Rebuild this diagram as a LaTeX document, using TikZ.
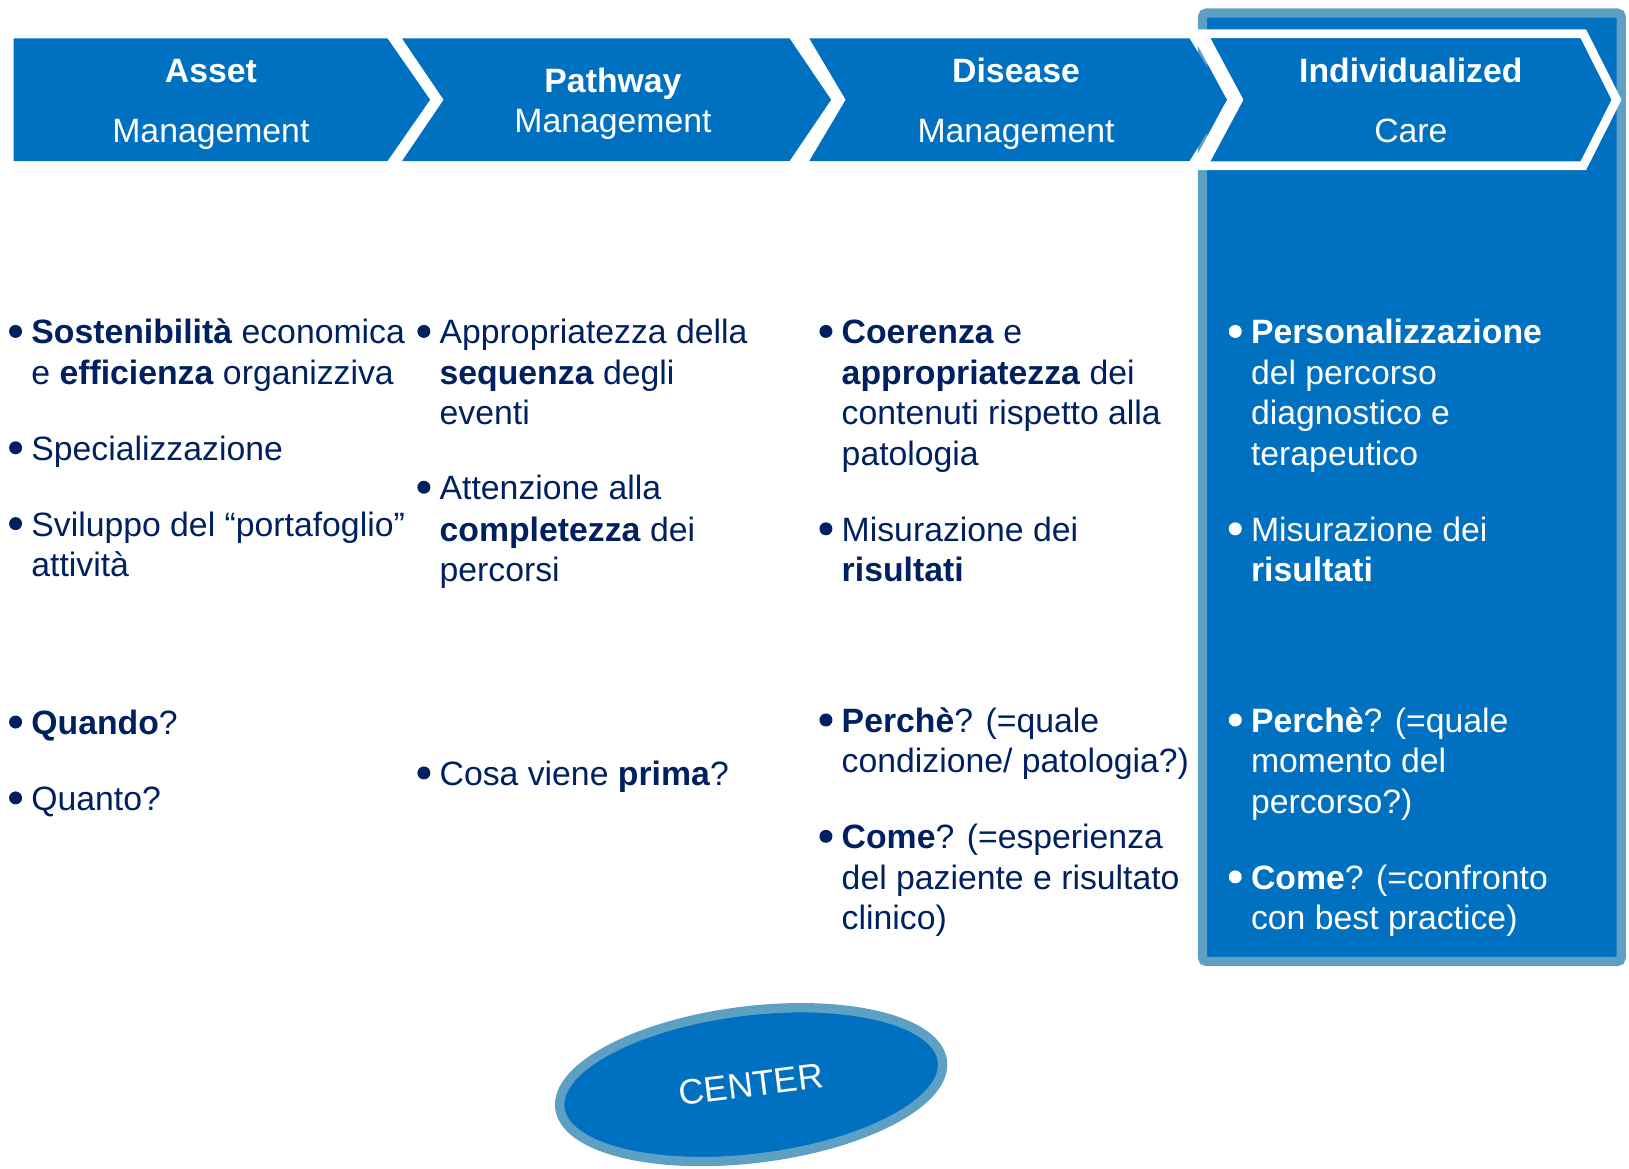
\documentclass[tikz,border=0pt]{standalone}
\usepackage{fontspec}
\setmainfont{Liberation Sans}
\usetikzlibrary{shapes.geometric}
\definecolor{mblue}{RGB}{0,112,192}
\definecolor{lblue}{RGB}{93,160,195}
\definecolor{navy}{RGB}{0,32,96}
\newcommand\bodyfs{\fontsize{32.5}{39}\selectfont}
\begin{document}
\begin{tikzpicture}[x=1pt,y=-1pt,
  chev/.style={fill=mblue},
  head/.style={anchor=base, text=white, font=\bodyfs, inner sep=0pt},
  txt/.style={anchor=base west, text=navy, font=\bodyfs, inner sep=0pt},
  wtxt/.style={txt, text=white},
  bul/.style={circle, fill=navy, minimum size=12.5pt, inner sep=0pt},
  wbul/.style={bul, fill=white}]
\useasboundingbox (0,0) rectangle (1568,1125);

% highlight box
\draw[lblue, fill=mblue, line width=9pt, rounded corners=4pt] (1157.5,12.5) rectangle (1560.5,925.5);
% white gap at junction
\fill[white] (1145,29) -- (1165,29) -- (1199,96) -- (1165,163) -- (1145,163) -- (1181,96) -- cycle;
% chevrons
\fill[chev] (13,37) -- (373,37) -- (414,96) -- (373,155) -- (13,155) -- cycle;
\fill[chev] (387,37) -- (760,37) -- (800,96) -- (760,155) -- (387,155) -- (427,96) -- cycle;
\fill[chev] (779,37) -- (1145,37) -- (1181,96) -- (1145,155) -- (779,155) -- (814,96) -- cycle;
\draw[fill=mblue, draw=white, line width=8.5pt, line join=miter]
  (1158,32.5) -- (1524,32.5) -- (1556,96) -- (1524,159.5) -- (1158,159.5) -- (1192,96) -- cycle;

% headings
\node[head] (h1a) at (203,79) {\textbf{Asset}};
\node[head] (h1b) at (203,137) {Management};
\node[head] (h2a) at (590,89) {\textbf{Pathway}};
\node[head] (h2b) at (590,128) {Management};
\node[head] (h3a) at (978,79) {\textbf{Disease}};
\node[head] (h3b) at (978,137) {Management};
\node[head] (h4a) at (1358,79) {\textbf{Individualized}};
\node[head] (h4b) at (1358,137) {Care};

% column 1
\node[bul] (b11) at (15,319) {};
\node[txt] (t11a) at (30,331) {\textbf{Sostenibilità} economica};
\node[txt] (t11b) at (30,370) {e \textbf{efficienza} organizziva};
\node[bul] (b12) at (15,431) {};
\node[txt] (t12a) at (30,443) {Specializzazione};
\node[bul] (b13) at (15,504) {};
\node[txt] (t13a) at (30,516) {Sviluppo del “portafoglio”};
\node[txt] (t13b) at (30,555) {attività};
\node[bul] (b14) at (15,695) {};
\node[txt] (t14a) at (30,707) {\textbf{Quando}?};
\node[bul] (b15) at (15,768) {};
\node[txt] (t15a) at (30,780) {Quanto?};

% column 2
\node[bul] (b21) at (408,319) {};
\node[txt] (t21a) at (423,331) {Appropriatezza della};
\node[txt] (t21b) at (423,370) {\textbf{sequenza} degli};
\node[txt] (t21c) at (423,409) {eventi};
\node[bul] (b22) at (408,469) {};
\node[txt] (t22a) at (423,481) {Attenzione alla};
\node[txt] (t22b) at (423,521) {\textbf{completezza} dei};
\node[txt] (t22c) at (423,560) {percorsi};
\node[bul] (b23) at (408,744) {};
\node[txt] (t23a) at (423,756) {Cosa viene \textbf{prima}?};

% column 3
\node[bul] (b31) at (795,319) {};
\node[txt] (t31a) at (810,331) {\textbf{Coerenza} e};
\node[txt] (t31b) at (810,370) {\textbf{appropriatezza} dei};
\node[txt] (t31c) at (810,409) {contenuti rispetto alla};
\node[txt] (t31d) at (810,448) {patologia};
\node[bul] (b32) at (795,509) {};
\node[txt] (t32a) at (810,521) {Misurazione dei};
\node[txt] (t32b) at (810,560) {\textbf{risultati}};
\node[bul] (b33) at (795,693) {};
\node[txt] (t33a) at (810,705) {\textbf{Perchè}? (=quale};
\node[txt] (t33b) at (810,744) {condizione/ patologia?)};
\node[bul] (b34) at (795,805) {};
\node[txt] (t34a) at (810,817) {\textbf{Come}? (=esperienza};
\node[txt] (t34b) at (810,856) {del paziente e risultato};
\node[txt] (t34c) at (810,895) {clinico)};

% column 4
\node[wbul] (b41) at (1189,319) {};
\node[wtxt] (t41a) at (1204,331) {\textbf{Personalizzazione}};
\node[wtxt] (t41b) at (1204,370) {del percorso};
\node[wtxt] (t41c) at (1204,409) {diagnostico e};
\node[wtxt] (t41d) at (1204,448) {terapeutico};
\node[wbul] (b42) at (1189,509) {};
\node[wtxt] (t42a) at (1204,521) {Misurazione dei};
\node[wtxt] (t42b) at (1204,560) {\textbf{risultati}};
\node[wbul] (b43) at (1189,693) {};
\node[wtxt] (t43a) at (1204,705) {\textbf{Perchè}? (=quale};
\node[wtxt] (t43b) at (1204,744) {momento del};
\node[wtxt] (t43c) at (1204,783) {percorso?)};
\node[wbul] (b44) at (1189,844) {};
\node[wtxt] (t44a) at (1204,856) {\textbf{Come}? (=confronto};
\node[wtxt] (t44b) at (1204,895) {con best practice)};

% CENTER ellipse
\node[ellipse, draw=lblue, fill=mblue, line width=9pt, minimum width=371pt, minimum height=142pt,
      inner sep=0pt, rotate=7, text=white, font=\fontsize{34}{40}\selectfont] (center) at (723,1044) {CENTER};
\end{tikzpicture}
\end{document}
